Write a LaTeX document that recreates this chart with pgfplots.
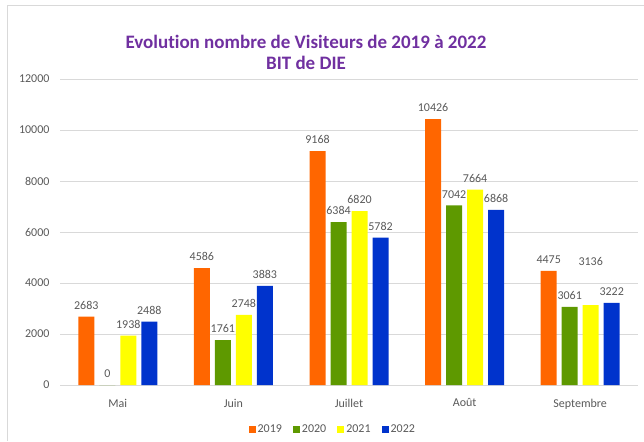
\documentclass[border=0pt]{standalone}
\usepackage{pgfplots}
\pgfplotsset{compat=1.18}
\usepackage{fontspec}
\setmainfont{Carlito}[Ligatures={NoCommon}]
\definecolor{c19}{HTML}{FF6600}
\definecolor{c20}{HTML}{5E9900}
\definecolor{c21}{HTML}{FFFF00}
\definecolor{c22}{HTML}{0033CC}
\definecolor{gridc}{HTML}{D9D9D9}
\definecolor{txt}{HTML}{595959}
\definecolor{ttl}{HTML}{7030A0}
\begin{document}
\begin{tikzpicture}[x=1pt,y=1pt]
\path[use as bounding box] (0,0) rectangle (644,441);
\draw[gridc, line width=1pt] (7,0) -- (7,435) -- (644,435);
\node[text=ttl, font=\bfseries\fontsize{19}{19}\selectfont] at (306,399) {Evolution nombre de Visiteurs de 2019 à 2022};
\node[text=ttl, font=\bfseries\fontsize{19}{19}\selectfont] at (306,378) {BIT de DIE};
\begin{axis}[
  at={(60pt,56pt)}, anchor=south west, scale only axis,
  width=578pt, height=306pt,
  xmin=-0.5, xmax=4.5, ymin=0, ymax=12000,
  ytick={0,2000,...,12000},
  scaled y ticks=false,
  yticklabel style={/pgf/number format/fixed},
  xtick={0,...,4},
  xticklabels={Mai,Juin,Juillet,Août,Septembre},
  ymajorgrids, grid style={gridc, line width=0.8pt},
  axis line style={draw=none},
  major tick style={draw=none},
  /pgf/number format/assume math mode=true,
  /pgf/number format/1000 sep={},
  ticklabel style={font=\fontsize{12}{12}\selectfont, text=txt},
  y tick label style={xshift=-7pt},
  x tick label style={yshift=-6pt},
  ybar=5pt, bar width=16pt,
  nodes near coords,
  every node near coord/.append style={font=\fontsize{12}{12}\selectfont, text=txt, anchor=south, inner sep=0pt, yshift=7pt},
  legend style={at={(0.472,-0.144)}, anchor=center, draw=none, legend columns=4, font=\fontsize{12}{12}\selectfont, text=txt,
    /tikz/every even column/.append style={column sep=9pt}},
  legend image code/.code={\fill[#1] (0pt,-3.5pt) rectangle (7pt,3.5pt);},
]
\addplot[fill=c19, draw=none] coordinates {(0,2683) (1,4586) (2,9168) (3,10426) (4,4475)};
\addplot[fill=c20, draw=none] coordinates {(0,0) (1,1761) (2,6384) (3,7042) (4,3061)};
\addplot[fill=c21, draw=none, point meta=explicit symbolic] coordinates {(0,1938) [1938] (1,2748) [2748] (2,6820) [6820] (3,7664) [7664] (4,3136) []};
\addplot[fill=c22, draw=none] coordinates {(0,2488) (1,3883) (2,5782) (3,6868) (4,3222)};
\legend{2019,2020,2021,2022}
\node[font=\fontsize{12}{12}\selectfont, text=txt, xshift=10.5pt] at (axis cs:4,4863) {3136};
\end{axis}
\end{tikzpicture}
\end{document}
